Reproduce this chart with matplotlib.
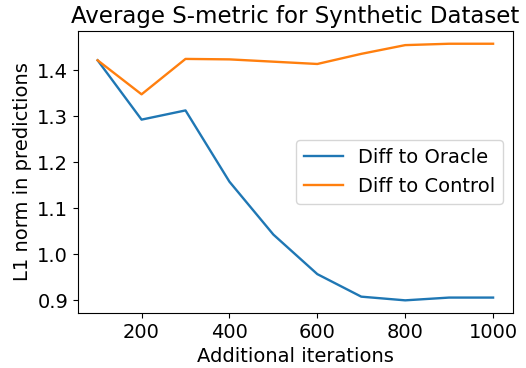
import numpy as np
import matplotlib
matplotlib.use("Agg")
import matplotlib.pyplot as plt

iterations = [100, 200, 300, 400, 500, 600, 700, 800, 900, 1000]
diff_oracle = [1.422, 1.293, 1.313, 1.158, 1.043, 0.957, 0.908, 0.900, 0.906, 0.906]
diff_control = [1.422, 1.348, 1.425, 1.424, 1.419, 1.414, 1.436, 1.455, 1.458, 1.458]

fig, ax = plt.subplots(figsize=(5.26, 3.68), dpi=100)
fig.subplots_adjust(left=0.148, right=0.975, top=0.916, bottom=0.149)

ax.plot(iterations, diff_oracle, color='#1f77b4', lw=1.7, label='Diff to Oracle')
ax.plot(iterations, diff_control, color='#ff7f0e', lw=1.7, label='Diff to Control')

ax.set_title('Average S-metric for Synthetic Dataset', fontsize=16.5)
ax.set_xlabel('Additional iterations', fontsize=14)
ax.set_ylabel('L1 norm in predictions', fontsize=14)
ax.set_xticks([200, 400, 600, 800, 1000])
ax.set_yticks([0.9, 1.0, 1.1, 1.2, 1.3, 1.4])
ax.tick_params(labelsize=14)
ax.legend(loc='center right', fontsize=14)

plt.savefig('out.png', dpi=100)
